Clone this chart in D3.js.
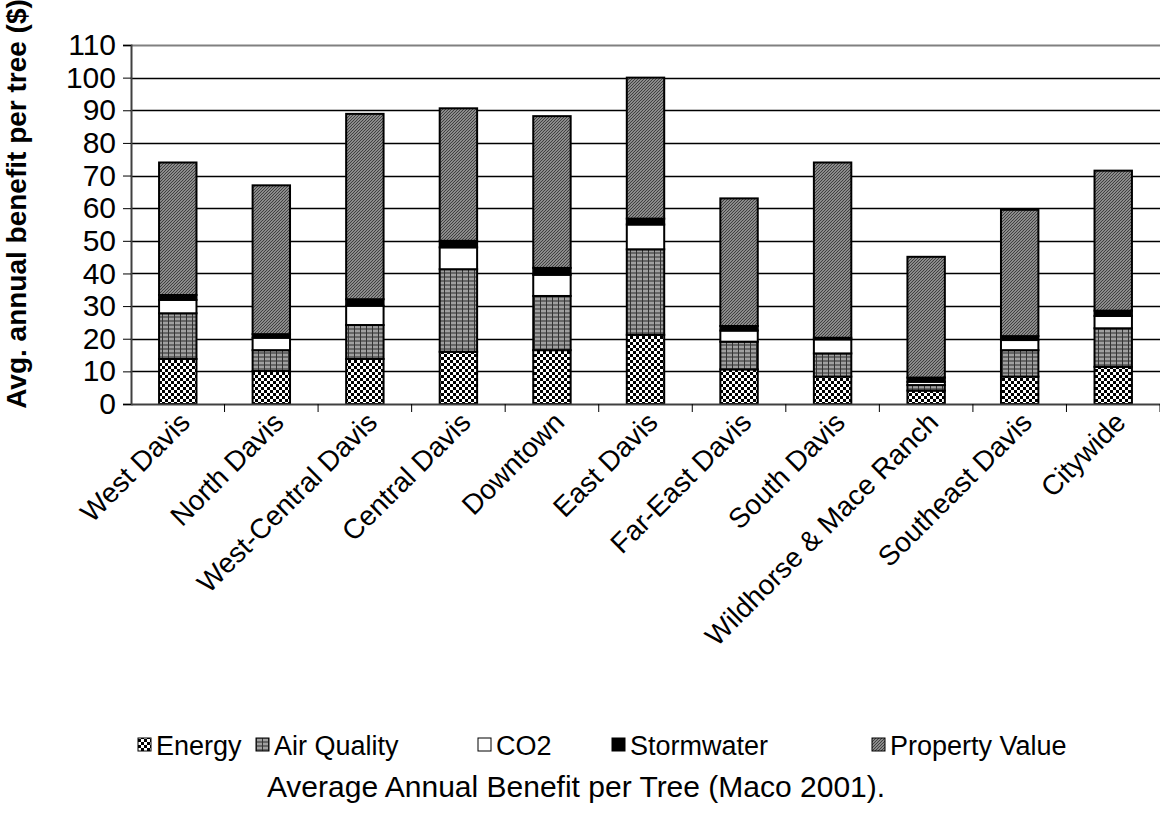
<!DOCTYPE html>
<html><head><meta charset="utf-8">
<script src="https://cdn.jsdelivr.net/npm/d3@7"></script>
<style>body{margin:0;background:#fff;}svg{display:block;font-family:Arial,"Liberation Sans",sans-serif;}</style>
</head><body>
<svg id="c" width="1160" height="819"></svg>
<script>
const categories = ["West Davis","North Davis","West-Central Davis","Central Davis","Downtown","East Davis","Far-East Davis","South Davis","Wildhorse & Mace Ranch","Southeast Davis","Citywide"];
const seriesNames = ["Energy","Air Quality","CO2","Stormwater","Property Value"];
const energy     = [13.8, 10.1, 13.8, 16.0, 16.5, 21.2, 10.6, 8.4, 4.1, 8.4, 11.4];
const airQuality = [14.0, 6.4, 10.4, 25.3, 16.6, 26.2, 8.5, 7.1, 1.7, 8.1, 11.8];
const co2        = [4.1, 3.8, 5.9, 6.7, 6.5, 7.6, 3.4, 4.3, 1.0, 3.1, 3.8];
const stormwater = [1.5, 1.1, 2.0, 2.0, 2.1, 1.8, 1.4, 0.5, 1.3, 1.2, 1.6];
const propertyValue = [40.6, 45.6, 56.8, 40.6, 46.5, 43.2, 39.1, 53.7, 37.0, 38.7, 42.9];
const yTicks = [0,10,20,30,40,50,60,70,80,90,100,110];
const yTitle = "Avg. annual benefit per tree ($)";
const caption = "Average Annual Benefit per Tree (Maco 2001).";

(function(){
const svg = d3.select("#c");
const defs = svg.append("defs");
const pE = defs.append("pattern").attr("id","pEnergy").attr("patternUnits","userSpaceOnUse").attr("width",6).attr("height",6);
pE.append("rect").attr("width",6).attr("height",6).attr("fill","#fff");
pE.append("rect").attr("width",3).attr("height",3).attr("fill","#000");
pE.append("rect").attr("x",3).attr("y",3).attr("width",3).attr("height",3).attr("fill","#000");
const pA = defs.append("pattern").attr("id","pAir").attr("patternUnits","userSpaceOnUse").attr("width",6).attr("height",4);
pA.append("rect").attr("width",6).attr("height",4).attr("fill","#a0a0a0");
pA.append("rect").attr("y",0).attr("width",6).attr("height",2).attr("fill","#666");
pA.append("rect").attr("x",0).attr("width",1).attr("height",4).attr("fill","#333");
const pP = defs.append("pattern").attr("id","pProp").attr("patternUnits","userSpaceOnUse").attr("width",3).attr("height",3);
pP.append("rect").attr("width",3).attr("height",3).attr("fill","#c8c8c8");
pP.append("path").attr("d","M0,3 L3,0 M-1,1 L1,-1 M2,4 L4,2").attr("stroke","#404040").attr("stroke-width",1.3);
const fills = ["url(#pEnergy)","url(#pAir)","#ffffff","#000000","url(#pProp)"];

const mLeft = 131, mRight = 1160, mTop = 45, mBottom = 404;
const x = d3.scaleBand().domain(categories).range([mLeft, mRight]).paddingInner(0.6).paddingOuter(0.3);
const xTickScale = d3.scaleBand().domain(categories).range([mLeft, mRight]);
const y = d3.scaleLinear().domain([0,110]).range([mBottom, mTop]);

svg.append("g").selectAll("line").data(yTicks.filter(d=>d>0)).join("line")
  .attr("x1",mLeft).attr("x2",mRight).attr("y1",d=>Math.round(y(d))+0.5).attr("y2",d=>Math.round(y(d))+0.5)
  .attr("stroke",d=>d===110?"#808080":"#000").attr("stroke-width",d=>d===110?2:1.5);

const rows = categories.map((c,i)=>({cat:c, Energy:energy[i], "Air Quality":airQuality[i], CO2:co2[i], Stormwater:stormwater[i], "Property Value":propertyValue[i]}));
const stack = d3.stack().keys(seriesNames)(rows);
svg.append("g").selectAll("g").data(stack).join("g").attr("fill",(d,i)=>fills[i])
  .selectAll("rect").data(d=>d).join("rect")
  .attr("x",d=>x(d.data.cat)).attr("width",x.bandwidth())
  .attr("y",d=>y(d[1])).attr("height",d=>y(d[0])-y(d[1]))
  .attr("stroke","#000").attr("stroke-width",2);

const yAxis = d3.axisLeft(y).tickValues(yTicks).tickSize(8).tickPadding(7);
const gy = svg.append("g").attr("transform",`translate(${mLeft},0)`).call(yAxis);
gy.select(".domain").attr("stroke","#404040").attr("stroke-width",2);
gy.selectAll("line").attr("stroke","#000");
gy.selectAll("text").attr("font-size",30).attr("fill","#000");

const xAxis = d3.axisBottom(xTickScale).tickSize(0).tickFormat(d=>d);
const gx = svg.append("g").attr("transform",`translate(0,${mBottom})`).call(xAxis);
gx.select(".domain").attr("stroke","#404040").attr("stroke-width",2);
gx.selectAll(".tick text").attr("font-size",28).attr("fill","#000")
  .attr("text-anchor","end").attr("dy",0).attr("y",0)
  .attr("transform","translate(14,20) rotate(-45)");
svg.append("g").selectAll("line").data(categories).join("line")
  .attr("x1",(d,i)=>mLeft+xTickScale.step()*(i+1))
  .attr("x2",(d,i)=>mLeft+xTickScale.step()*(i+1))
  .attr("y1",mBottom).attr("y2",mBottom+8).attr("stroke","#000").attr("stroke-width",1);

svg.append("text").attr("transform",`translate(26,204) rotate(-90)`)
  .attr("text-anchor","middle").attr("font-size",28).attr("font-weight","bold").text(yTitle);

const legendX = [138, 256, 478, 612, 872];
const lg = svg.append("g").selectAll("g").data(seriesNames).join("g")
  .attr("transform",(d,i)=>`translate(${legendX[i]},745)`);
lg.append("rect").attr("x",0).attr("y",-7).attr("width",13).attr("height",13)
  .attr("fill",(d,i)=>fills[i]).attr("stroke","#000").attr("stroke-width",1);
lg.append("text").attr("x",18).attr("y",10).attr("font-size",27).text(d=>d);

svg.append("text").attr("x",576).attr("y",797).attr("text-anchor","middle").attr("font-size",30).text(caption);
})();
</script>
</body></html>
